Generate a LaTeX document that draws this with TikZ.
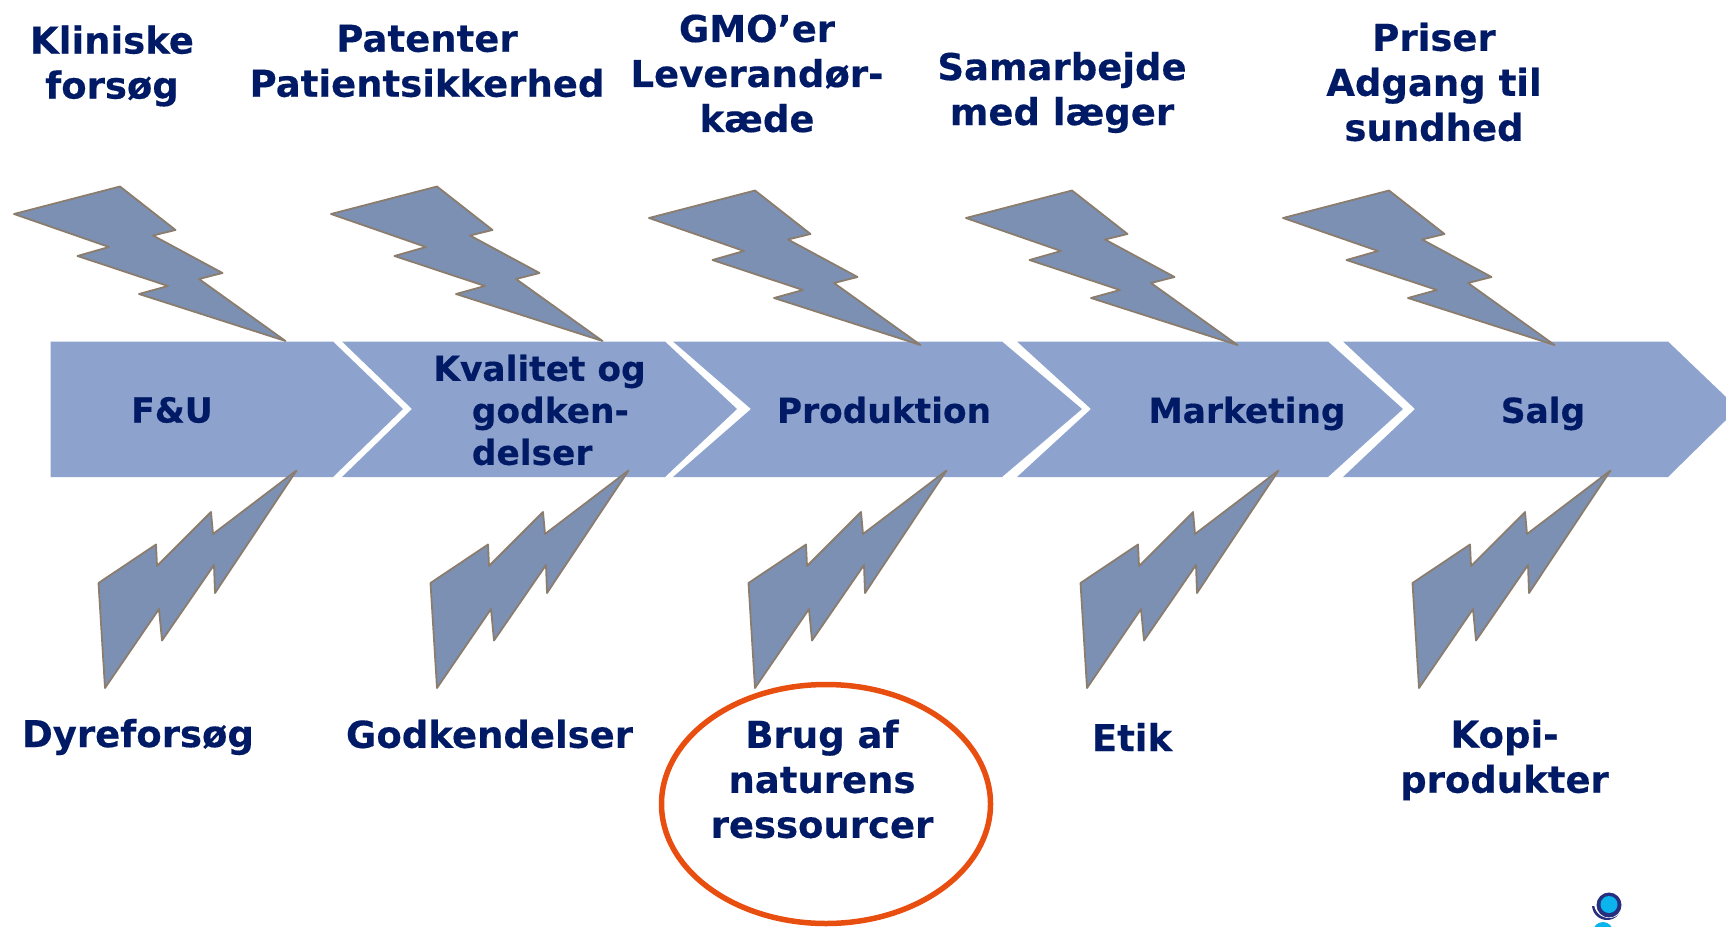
\documentclass[tikz,border=0pt]{standalone}
\usepackage{fontspec}
\setmainfont{DejaVu Sans}
\newfontfamily\labf[UprightFont=* Bold,FakeBold=0.35]{DejaVu Sans}
\definecolor{chev}{HTML}{8DA2CC}
\definecolor{bolt}{HTML}{7C90B3}
\definecolor{boltline}{HTML}{8B7D6E}
\definecolor{navy}{HTML}{001A66}
\definecolor{ring}{HTML}{E84E0F}
\definecolor{logod}{HTML}{26307F}
\definecolor{logoc}{HTML}{0BB4EC}
\tikzset{
  chevron/.style={fill=chev,draw=none},
  boltshape/.style={fill=bolt,draw=boltline,line width=1.8pt,line join=round},
  lab/.style={font=\fontsize{37}{45}\labf,text=navy,align=center,inner sep=0pt},
  chlab/.style={font=\fontsize{34.4}{42}\labf,text=navy,align=center,inner sep=0pt},
  upbolt/.pic={\path[boltshape] (14,214)--(120,186.5)--(175.5,230)--(153,235.5)--(222.5,273)--(199,279)--(285.5,341)--(139,294)--(168,286)--(77.5,256)--(109,247)--cycle;},
  downbolt/.pic={\path[boltshape] (98.5,583)--(156,544.5)--(157,566)--(211,512)--(213,534)--(296.5,470.5)--(215,593)--(214,565)--(162,640.5)--(159,609)--(105,688)--cycle;}
}
\begin{document}
\begin{tikzpicture}[x=1pt,y=-1pt]
\useasboundingbox (0,0) rectangle (1726,926);
% chevrons
\fill[chevron] (50.5,341.5)--(333,341.5)--(403,409)--(333,477)--(50.5,477)--cycle;
\fill[chevron] (342,341.5)--(665,341.5)--(737,409)--(665,477)--(342,477)--(412,409)--cycle;
\fill[chevron] (673,341.5)--(1002,341.5)--(1082,409)--(1002,477)--(673,477)--(751,409)--cycle;
\fill[chevron] (1017,341.5)--(1328,341.5)--(1403,409)--(1328,477)--(1017,477)--(1091,409)--cycle;
\fill[chevron] (1343,341.5)--(1668,341.5)--(1726,397)--(1726,420)--(1668,477)--(1343,477)--(1415,409)--cycle;
% bolts
\foreach \dx/\dy in {0/0,317/0,635/4,952/4,1269/4}{\pic at (\dx,\dy) {upbolt};}
\foreach \dx in {0,332,650,982,1314}{\pic at (\dx,0) {downbolt};}
% ring
\draw[ring,line width=5.5pt] (826,804) ellipse [x radius=164.5,y radius=119.5];
% labels
\node[lab] (k) at (112,66) {Kliniske\\forsøg};
\node[lab] (p) at (427,61) {Patenter\\Patientsikkerhed};
\node[lab] (g) at (757,73.5) {GMO’er\\Leverandør-\\kæde};
\node[lab] (s) at (1062,92.5) {Samarbejde\\med læger};
\node[lab] (pr) at (1434,82) {Priser\\Adgang til\\sundhed};
\node[chlab] (fu) at (172,410) {F\&U};
\node[chlab,align=left] (kv) at (539.5,410) {Kvalitet og\\\hspace*{38.5pt}godken-\\\hspace*{38.5pt}delser};
\node[chlab] (pd) at (884,410) {Produktion};
\node[chlab] (m) at (1247,413.5) {Marketing};
\node[chlab] (sa) at (1543,413.5) {Salg};
\node[lab] (d) at (138,737) {Dyreforsøg};
\node[lab] (go) at (489.5,734) {Godkendelser};
\node[lab] (b) at (822,779) {Brug af\\naturens\\ressourcer};
\node[lab] (e) at (1132,737) {Etik};
\node[lab] (ko) at (1504.5,760) {Kopi-\\produkter};
% logo
\begin{scope}
\clip (1580,880) rectangle (1640,926);
\fill[logoc] (1603,932) circle (10);
\begin{scope}
\clip (1585,906) rectangle (1630,926);
\fill[logod] (1607,905) circle (15);
\end{scope}
\fill[white] (1609,903) circle (15);
\fill[logod] (1609,905) circle (12.5);
\fill[logoc] (1609,904.5) circle (8.5);
\end{scope}
\end{tikzpicture}
\end{document}
